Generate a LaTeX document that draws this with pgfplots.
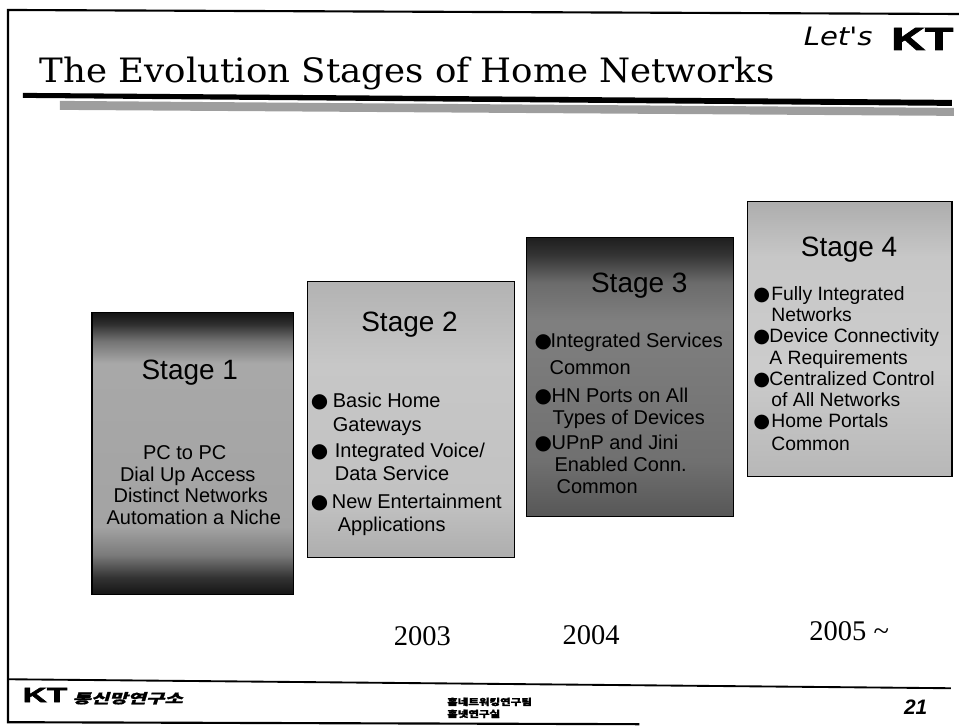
\documentclass[border=0pt]{standalone}
\usepackage{graphicx}
\usepackage{fontspec}
\usepackage{pgfplots}
\pgfplotsset{compat=1.18}
\setmainfont{Liberation Sans}
\newfontfamily\heavyfont[BoldFeatures={FakeBold=2.5}]{Liberation Sans}
\newfontfamily\titlefont{DejaVu Serif}
\newfontfamily\yearfont{Liberation Serif}
\newfontfamily\symfont{DejaVu Sans}
\newfontfamily\cjk[BoldFeatures={FakeBold=1.5}]{Noto Sans CJK KR}
\newfontfamily\cjkit[FakeSlant=0.2,BoldFeatures={FakeBold=1}]{Noto Sans CJK KR}

% shadings: 25bp = bottom of box, 75bp = top of box
\pgfdeclareverticalshading{stageone}{100bp}{
  color(0bp)=(black!92); color(25bp)=(black!92); color(28bp)=(black!80);
  color(32bp)=(black!52); color(37bp)=(black!36); color(66bp)=(black!34);
  color(70bp)=(black!55); color(73bp)=(black!82); color(75bp)=(black!92); color(100bp)=(black!92)}
\pgfdeclareverticalshading{stagetwo}{100bp}{
  color(0bp)=(black!32); color(25bp)=(black!32); color(35bp)=(black!24);
  color(60bp)=(black!22); color(75bp)=(black!30); color(100bp)=(black!30)}
\pgfdeclareverticalshading{stagethree}{100bp}{
  color(0bp)=(black!66); color(25bp)=(black!66); color(35bp)=(black!56);
  color(60bp)=(black!50); color(67bp)=(black!58); color(72bp)=(black!80);
  color(75bp)=(black!88); color(100bp)=(black!88)}
\pgfdeclareverticalshading{stagefour}{100bp}{
  color(0bp)=(black!28); color(25bp)=(black!28); color(45bp)=(black!20);
  color(65bp)=(black!22); color(75bp)=(black!32); color(100bp)=(black!32)}

\newcommand{\bul}{{\symfont ●}}

\begin{document}
\begin{tikzpicture}
\begin{axis}[
  scale only axis, width=720pt, height=545.25pt,
  xmin=0, xmax=960, ymin=0, ymax=727, y dir=reverse,
  hide axis, clip=false,
  every node/.style={inner sep=0pt, outer sep=0pt},
]
\path (axis cs:0,0) rectangle (axis cs:960,727);

% slide frame
\addplot[black, line width=1.6pt, mark=none] coordinates {(960,14) (8,10) (8,723) (640,725)};
\addplot[black, line width=1.4pt, mark=none] coordinates {(8,680) (952,689)};

% title underline + shadow
\addplot[draw=none, fill=black!38, mark=none] coordinates {(60,101) (955,108) (955,116) (60,110)} -- cycle;
\addplot[draw=none, fill=black, mark=none] coordinates {(23,93) (953,100) (953,106) (23,98)} -- cycle;

% title
\node[anchor=base west] at (axis cs:35,83) {\scalebox{1.06}[1]{\titlefont\fontsize{25.2}{28}\selectfont The Evolution Stages of Home Networks}};

% Let's KT
\node[anchor=base west] at (axis cs:800,46) {\scalebox{1.15}[1]{\symfont\itshape\fontsize{19}{20}\selectfont Let's}};
\node[anchor=base east] at (axis cs:959,50) {\scalebox{1.45}[1]{\heavyfont\bfseries\fontsize{24}{26}\selectfont KT}};

% stage boxes
\addplot[draw=black, line width=1pt, shade, shading=stageone, mark=none] coordinates {(92,313) (294,313) (294,595) (92,595)} -- cycle;
\addplot[draw=black, line width=1pt, shade, shading=stagetwo, mark=none] coordinates {(308,282) (515,282) (515,558) (308,558)} -- cycle;
\addplot[draw=black, line width=1pt, shade, shading=stagethree, mark=none] coordinates {(527,238) (734,238) (734,517) (527,517)} -- cycle;
\addplot[draw=black, line width=1pt, shade, shading=stagefour, mark=none] coordinates {(748,202) (953,202) (953,477) (748,477)} -- cycle;

% Stage 1
\node[anchor=base, font=\fontsize{21}{25}\selectfont] at (axis cs:190,380) {Stage 1};
\begin{scope}[every node/.style={anchor=base, inner sep=0pt, font=\fontsize{15}{18}\selectfont}]
\node at (axis cs:185,460) {PC to PC};
\node at (axis cs:188,482) {Dial Up Access};
\node at (axis cs:191,503) {Distinct Networks};
\node at (axis cs:194,525) {Automation a Niche};
\end{scope}

% Stage 2
\node[anchor=base, font=\fontsize{21}{25}\selectfont] at (axis cs:410,332) {Stage 2};
\begin{scope}[every node/.style={anchor=base west, inner sep=0pt, font=\fontsize{15}{18}\selectfont}]
\node at (axis cs:311,408) {\bul};
\node at (axis cs:333,408) {Basic Home};
\node at (axis cs:333,432) {Gateways};
\node at (axis cs:311,458) {\bul};
\node at (axis cs:335,458) {Integrated Voice/};
\node at (axis cs:335,481) {Data Service};
\node at (axis cs:311,509) {\bul};
\node at (axis cs:332,509) {New Entertainment};
\node at (axis cs:338,532) {Applications};
\end{scope}

% Stage 3
\node[anchor=base, font=\fontsize{21}{25}\selectfont] at (axis cs:640,293) {Stage 3};
\begin{scope}[every node/.style={anchor=base west, inner sep=0pt, font=\fontsize{15}{18}\selectfont}]
\node at (axis cs:535,348) {\bul};
\node at (axis cs:551,348) {Integrated Services};
\node at (axis cs:550,375) {Common};
\node at (axis cs:535,403) {\bul};
\node at (axis cs:552,403) {HN Ports on All};
\node at (axis cs:553,425) {Types of Devices};
\node at (axis cs:535,450) {\bul};
\node at (axis cs:552,450) {UPnP and Jini};
\node at (axis cs:555,472) {Enabled Conn.};
\node at (axis cs:557,494) {Common};
\end{scope}

% Stage 4
\node[anchor=base, font=\fontsize{21}{25}\selectfont] at (axis cs:850,257) {Stage 4};
\begin{scope}[every node/.style={anchor=base west, inner sep=0pt, font=\fontsize{14.5}{17}\selectfont}]
\node at (axis cs:754,301) {\bul};
\node at (axis cs:772,301) {Fully Integrated};
\node at (axis cs:772,322) {Networks};
\node at (axis cs:754,343) {\bul};
\node at (axis cs:770,343) {Device Connectivity};
\node at (axis cs:770,365) {A Requirements};
\node at (axis cs:754,386) {\bul};
\node at (axis cs:770,386) {Centralized Control};
\node at (axis cs:772,407) {of All Networks};
\node at (axis cs:754,428) {\bul};
\node at (axis cs:772,428) {Home Portals};
\node at (axis cs:772,451) {Common};
\end{scope}

% years
\begin{scope}[every node/.style={anchor=base west, inner sep=0pt, font=\yearfont\fontsize{21.4}{24}\selectfont}]
\node at (axis cs:394,646) {2003};
\node at (axis cs:563,645) {2004};
\node at (axis cs:810,641) {2005 \textasciitilde};
\end{scope}

% footer
\node[anchor=base west] at (axis cs:18,703) {\scalebox{1.6}[1]{\heavyfont\bfseries\fontsize{15.7}{17}\selectfont KT}};
\node[anchor=base west] at (axis cs:68,704) {\scalebox{1.5}[1]{\cjkit\bfseries\fontsize{10}{11}\selectfont 통신망연구소}};
\node[anchor=base west] at (axis cs:443,706) {\scalebox{1.28}[1]{\cjk\bfseries\fontsize{6.75}{7}\selectfont 홈네트워킹연구팀}};
\node[anchor=base west] at (axis cs:443,718) {\scalebox{1.28}[1]{\cjk\bfseries\fontsize{6.75}{7}\selectfont 홈넷연구실}};
\node[anchor=base east] at (axis cs:933,715) {\heavyfont\bfseries\itshape\fontsize{15.7}{17}\selectfont 21};
\end{axis}
\end{tikzpicture}
\end{document}
